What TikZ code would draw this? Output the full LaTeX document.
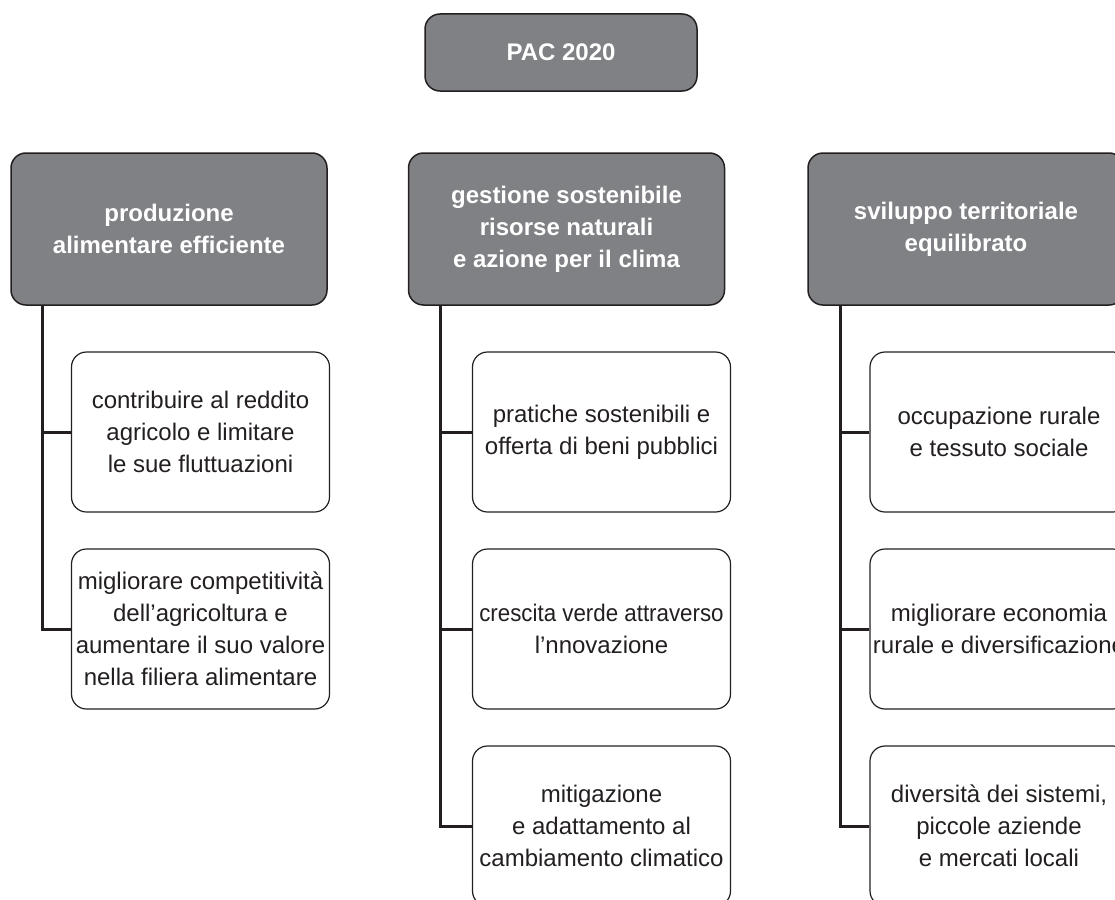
\documentclass[tikz,border=0pt]{standalone}
\usepackage{fontspec}
\setmainfont{Liberation Sans}
\definecolor{headgray}{RGB}{128,129,133}
\definecolor{ink}{RGB}{35,31,32}
\begin{document}
\begin{tikzpicture}[x=1pt,y=-1pt,
  head/.style={draw=ink, line width=1.5pt, fill=headgray, rounded corners=15pt,
    text=white, font=\fontsize{24}{32}\selectfont\bfseries, align=center,
    minimum width=316pt, minimum height=152pt, inner sep=0pt},
  top/.style={head, minimum width=272pt, minimum height=77pt},
  child/.style={draw=ink, line width=1.2pt, fill=white, rounded corners=15pt,
    text=ink, font=\fontsize{24}{32}\selectfont, align=center,
    minimum width=258pt, minimum height=160pt, inner sep=0pt},
  conn/.style={draw=ink, line width=3pt}]
\useasboundingbox (0,0) rectangle (1115,899);
\clip (0,0) rectangle (1115,899);

\node[top] (pac) at (561,52.5) {PAC 2020};

\node[head] (h1) at (169,229) {produzione\\alimentare efficiente};
\node[head] (h2) at (566.5,229) {gestione sostenibile\\risorse naturali\\e azione per il clima};
\node[head] (h3) at (966,229) {sviluppo territoriale\\equilibrato};

\node[child] (c11) at (200.5,432) {contribuire al reddito\\agricolo e limitare\\le sue fluttuazioni};
\node[child] (c12) at (200.5,629) {migliorare competitività\\dell’agricoltura e\\aumentare il suo valore\\nella filiera alimentare};

\node[child] (c21) at (601.5,432) {pratiche sostenibili e\\offerta di beni pubblici};
\node[child] (c22) at (601.5,629) {\scalebox{0.93}[1]{crescita verde attraverso}\\l’nnovazione};
\node[child] (c23) at (601.5,826) {mitigazione\\e adattamento al\\cambiamento climatico};

\node[child] (c31) at (999,432) {occupazione rurale\\e tessuto sociale};
\node[child] (c32) at (999,629) {migliorare economia\\rurale e diversificazione};
\node[child] (c33) at (999,826) {diversità dei sistemi,\\piccole aziende\\e mercati locali};

\coordinate (v1) at ([xshift=32pt]h1.south west);
\coordinate (v2) at ([xshift=33pt]h2.south west);
\coordinate (v3) at ([xshift=33pt]h3.south west);

\draw[conn] (v1) |- (c12.west);
\draw[conn] (c11.west -| v1) -- (c11.west);

\draw[conn] (v2) |- (c23.west);
\draw[conn] (c21.west -| v2) -- (c21.west);
\draw[conn] (c22.west -| v2) -- (c22.west);

\draw[conn] (v3) |- (c33.west);
\draw[conn] (c31.west -| v3) -- (c31.west);
\draw[conn] (c32.west -| v3) -- (c32.west);
\end{tikzpicture}
\end{document}
